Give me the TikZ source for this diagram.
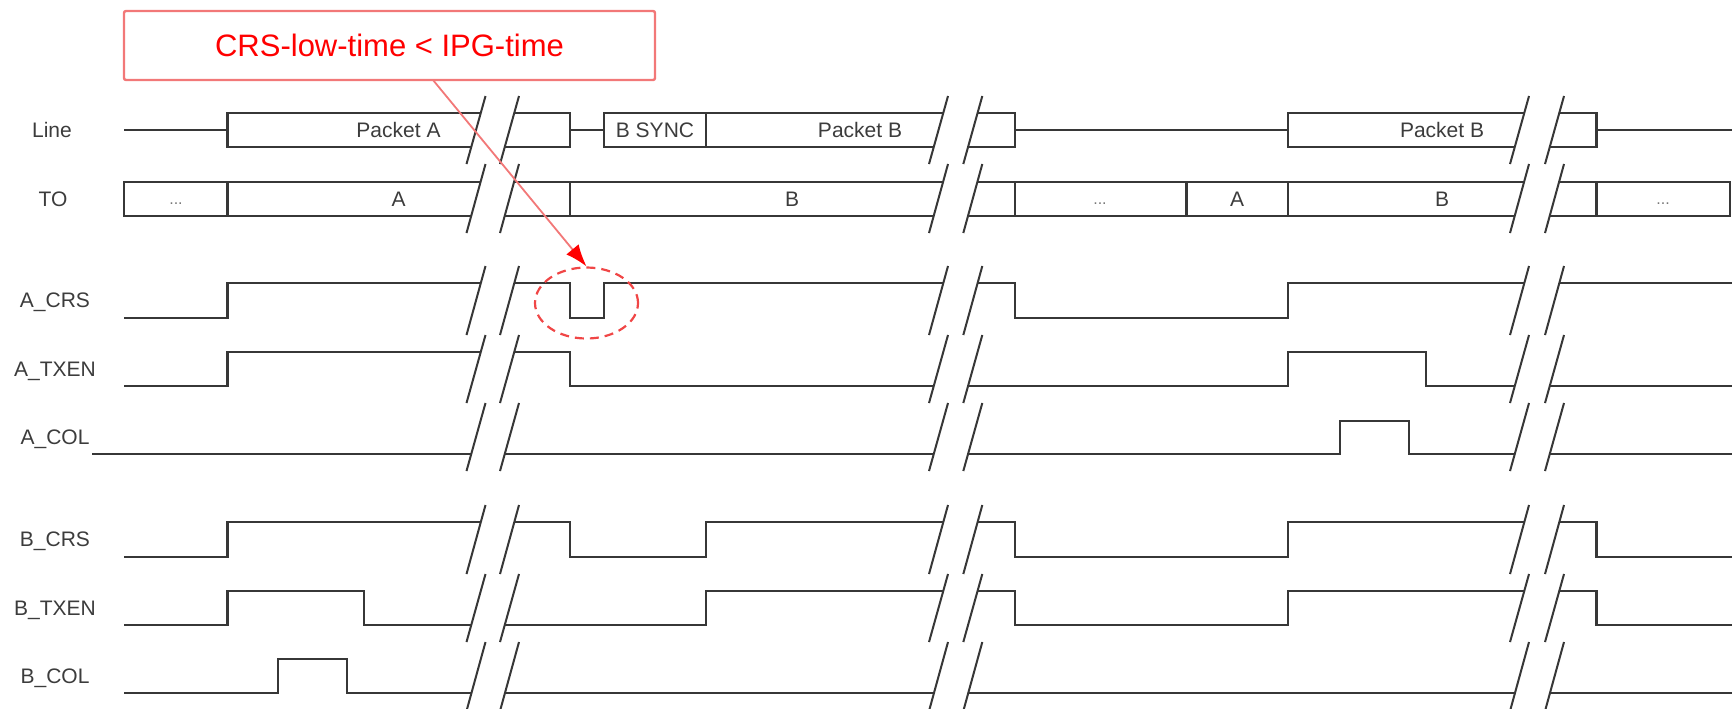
\documentclass[tikz,border=0pt]{standalone}
\usepackage{fontspec}
\setmainfont{Liberation Sans}
\usetikzlibrary{arrows.meta,shapes.geometric}
\definecolor{wavecol}{RGB}{55,55,55}
\definecolor{txtcol}{RGB}{60,60,60}
\definecolor{calloutred}{RGB}{242,120,120}
\definecolor{ringred}{RGB}{240,70,70}
\definecolor{notered}{RGB}{255,0,0}
\begin{document}
\begin{tikzpicture}[x=0.5pt,y=-0.5pt,
  wave/.style={draw=wavecol,line width=1.15pt,line join=miter},
  slash/.style={draw=wavecol,line width=1.0pt},
  lbl/.style={font=\fontsize{10.5pt}{12pt}\selectfont,text=txtcol,anchor=base,inner sep=0pt},
  dots/.style={font=\fontsize{8pt}{10pt}\selectfont,text=txtcol!70,anchor=base,inner sep=0pt},
  callout/.style={draw=calloutred,line width=1.2pt,fill=white,rounded corners=1pt,
    minimum width=265.5pt,minimum height=34.5pt,inner sep=0pt,
    font=\fontsize{15.5pt}{18pt}\selectfont,text=notered},
  ring/.style={ellipse,draw=ringred,line width=1.1pt,dash pattern=on 4.5pt off 3pt,
    minimum width=51.5pt,minimum height=35.5pt,inner sep=0pt},
  pointer/.style={draw=calloutred,line width=0.9pt,-{Latex[length=11pt,width=8pt,color=notered]}}]
\useasboundingbox (0,0) rectangle (1732,708);

% labels
\node[lbl] (lLine) at (52,137.5) {Line};
\node[lbl] (lTO) at (53,206.5) {TO};
\node[lbl] (lACRS) at (55,307.5) {A\_CRS};
\node[lbl] (lATXEN) at (55,376.5) {A\_TXEN};
\node[lbl] (lACOL) at (55,444) {A\_COL};
\node[lbl] (lBCRS) at (55,546.5) {B\_CRS};
\node[lbl] (lBTXEN) at (55,615) {B\_TXEN};
\node[lbl] (lBCOL) at (55,683.5) {B\_COL};

% Line row
\draw[wave] (124,130) -- (227.5,130);
\draw[wave] (227.5,113) rectangle (570,147);
\draw[wave] (570,130) -- (604,130);
\draw[wave] (604,113) rectangle (706,147);
\draw[wave] (706,113) rectangle (1015,147);
\draw[wave] (1015,130) -- (1288,130);
\draw[wave] (1288,113) rectangle (1596.5,147);
\draw[wave] (1596.5,130) -- (1732,130);
\node[lbl] (tPA) at (398.5,137.5) {Packet A};
\node[lbl] (tBS) at (655,137.5) {B SYNC};
\node[lbl] (tPB1) at (860,137.5) {Packet B};
\node[lbl] (tPB2) at (1442,137.5) {Packet B};

% TO row
\draw[wave] (124,182) rectangle (1730,216);
\foreach \vx in {227.5,570,1015,1186.5,1288,1596.5}
  \draw[wave] (\vx,182) -- (\vx,216);
\node[dots] (tO1) at (176,204) {...};
\node[lbl] (tO2) at (398.5,206.5) {A};
\node[lbl] (tO3) at (792,206.5) {B};
\node[dots] (tO4) at (1100,204) {...};
\node[lbl] (tO5) at (1237,206.5) {A};
\node[lbl] (tO6) at (1442,206.5) {B};
\node[dots] (tO7) at (1663,204) {...};

% A signals
\draw[wave] (124,318) -- (227.5,318) -- (227.5,283) -- (570,283) -- (570,318) -- (604,318)
  -- (604,283) -- (1015,283) -- (1015,318) -- (1288,318) -- (1288,283) -- (1732,283);
\draw[wave] (124,386) -- (227.5,386) -- (227.5,352) -- (570,352) -- (570,386) -- (1288,386)
  -- (1288,352) -- (1426,352) -- (1426,386) -- (1732,386);
\draw[wave] (92,454) -- (1340,454) -- (1340,421) -- (1409,421) -- (1409,454) -- (1732,454);

% B signals
\draw[wave] (124,557) -- (227.5,557) -- (227.5,522) -- (570,522) -- (570,557) -- (706,557)
  -- (706,522) -- (1015,522) -- (1015,557) -- (1288,557) -- (1288,522) -- (1596.5,522)
  -- (1596.5,557) -- (1732,557);
\draw[wave] (124,625) -- (227.5,625) -- (227.5,591) -- (364,591) -- (364,625) -- (706,625)
  -- (706,591) -- (1015,591) -- (1015,625) -- (1288,625) -- (1288,591) -- (1596.5,591)
  -- (1596.5,625) -- (1732,625);
\draw[wave] (124,693) -- (278,693) -- (278,659) -- (347,659) -- (347,693) -- (1732,693);

% breaks
\foreach \bx/\bw in {466.5/33.5,929/34.3,1510/35}{
  \foreach \yt/\yb in {96/164,164/233,266/335,335/403,403/471,505/574,574/642,642/711}{
    \fill[white] (\bx,\yb) -- ({\bx+19},\yt) -- ({\bx+\bw+19},\yt) -- ({\bx+\bw},\yb) -- cycle;
  }
  \foreach \yt/\yb in {96/164,164/233,266/335,335/403,403/471,505/574,574/642,642/711}{
    \draw[slash] (\bx,\yb) -- ({\bx+19},\yt);
    \draw[slash] ({\bx+\bw},\yb) -- ({\bx+\bw+19},\yt);
  }
}

% annotation
\node[callout] (callout) at (389.5,45.5) {CRS-low-time < IPG-time};
\node[ring] (ring) at (586.5,303) {};
\coordinate (pstart) at (433,80);
\draw[pointer] (pstart) -- (ring.north);
\end{tikzpicture}
\end{document}
